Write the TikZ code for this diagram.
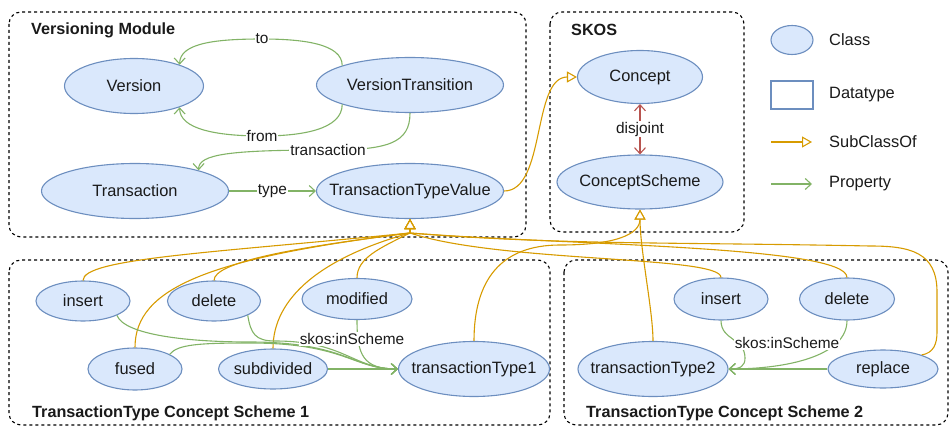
\documentclass[tikz,border=0pt]{standalone}
\usepackage{fontspec}
\setmainfont{Liberation Sans}
\usetikzlibrary{arrows.meta,shapes.geometric}
\definecolor{clsfill}{HTML}{DAE8FC}
\definecolor{clsline}{HTML}{6C8EBF}
\definecolor{subc}{HTML}{D79B00}
\definecolor{propc}{HTML}{82B366}
\definecolor{disc}{HTML}{B85450}
\definecolor{txt}{HTML}{1A1A1A}
\begin{document}
\begin{tikzpicture}[x=1pt,y=-1pt,
 cls/.style={ellipse, draw=clsline, fill=clsfill, line width=1.1pt, inner sep=0pt, minimum height=55pt},
 smallcls/.style={minimum height=40pt},
 nt/.style={font=\fontsize{16.4}{19}\selectfont, text=txt, inner sep=0pt},
 elabel/.style={fill=white, inner sep=1pt, font=\fontsize{15.4}{18}\selectfont, text=txt},
 grptitle/.style={font=\fontsize{16.2}{19}\selectfont\bfseries, text=txt, anchor=west, inner sep=0pt},
 grp/.style={draw=black, dash pattern=on 3pt off 3pt, line width=1.1pt, rounded corners=12pt},
 prop/.style={draw=propc, line width=1.1pt, -{Straight Barb[length=6pt,width=11pt]}},
 sub/.style={draw=subc, line width=1.1pt, -{Triangle[open,fill=white,length=10pt,width=11pt]}},
 disj/.style={draw=disc, line width=1.1pt, {Straight Barb[length=6pt,width=11pt]}-{Straight Barb[length=6pt,width=11pt]}}
]
\useasboundingbox (0,0) rectangle (950,428);

% group boxes
\draw[grp] (9,12) rectangle (526,237);
\draw[grp] (550,12) rectangle (744,232);
\draw[grp] (9,260) rectangle (550,425);
\draw[grp] (564,260) rectangle (948,425);
\node[grptitle] (t1) at (31,30) {Versioning Module};
\node[grptitle] (t2) at (571,30) {SKOS};
\node[grptitle] (t3) at (32,413) {TransactionType Concept Scheme 1};
\node[grptitle] (t4) at (586,413) {TransactionType Concept Scheme 2};

% classes
\node[cls, minimum width=139pt, label={[nt]center:Version}] (version) at (134,86) {};
\node[cls, minimum width=187pt, label={[nt]center:VersionTransition}] (vt) at (410,85) {};
\node[cls, minimum width=187pt, label={[nt]center:Transaction}] (tr) at (135,191) {};
\node[cls, minimum width=187pt, label={[nt]center:TransactionTypeValue}] (ttv) at (410,191) {};
\node[cls, minimum width=125pt, minimum height=53pt, label={[nt]center:Concept}] (concept) at (640,77) {};
\node[cls, minimum width=166pt, minimum height=54pt, label={[nt]center:ConceptScheme}] (cs) at (640,182) {};

\node[cls, smallcls, minimum width=94pt, label={[nt]center:insert}] (ins1) at (83,301) {};
\node[cls, smallcls, minimum width=93pt, label={[nt]center:delete}] (del1) at (214,301) {};
\node[cls, smallcls, minimum width=110pt, minimum height=41pt, label={[nt]center:modified}] (mod) at (357,299) {};
\node[cls, smallcls, minimum width=94pt, minimum height=42pt, label={[nt]center:fused}] (fused) at (135,369) {};
\node[cls, smallcls, minimum width=109pt, label={[nt]center:subdivided}] (subd) at (273,369) {};
\node[cls, minimum width=151pt, label={[nt]center:transactionType1}] (tt1) at (474,369) {};

\node[cls, minimum width=150pt, label={[nt]center:transactionType2}] (tt2) at (653,369) {};
\node[cls, smallcls, minimum width=94pt, minimum height=42pt, label={[nt]center:insert}] (ins2) at (721,299) {};
\node[cls, smallcls, minimum width=95pt, minimum height=42pt, label={[nt]center:delete}] (del2) at (847,299) {};
\node[cls, smallcls, minimum width=110pt, minimum height=38pt, label={[nt]center:replace}] (rep) at (883,369) {};

% versioning module properties
\draw[prop] (vt.164) .. controls +(0,-22) and +(40,0) .. (262,39) node[elabel] (lto) {to}
  .. controls +(-45,0) and +(0,-22) .. (version.25);
\draw[prop] (vt.196) .. controls +(0,25) and +(40,0) .. (262,136) node[elabel] (lfrom) {from}
  .. controls +(-45,0) and +(0,22) .. (version.335);
\draw[prop] (vt.south) .. controls +(0,30) and +(60,0) .. (328,150) node[elabel] (ltrans) {transaction}
  .. controls +(-100,0) and +(0,-16) .. (tr.18);
\draw[prop] (tr.east) -- node[elabel] (ltype) {type} (ttv.west);

% SKOS
\draw[disj] (concept.south) -- node[elabel] (ldisj) {disjoint} (cs.north);
\draw[sub] (ttv.east) .. controls +(42,0) and +(-45,0) .. (concept.west);

% subclass edges into TransactionTypeValue
\coordinate (ttvin) at (410,233);
\draw[sub] (ins1.north) .. controls +(0,-22) and +(-200,20) .. (ttvin) -- (ttv.south);
\draw[sub] (del1.north) .. controls +(0,-18) and +(-120,15) .. (ttvin) -- (ttv.south);
\draw[sub] (fused.north) .. controls +(0,-60) and +(-200,25) .. (ttvin) -- (ttv.south);
\draw[sub] (subd.north) .. controls +(0,-50) and +(-90,25) .. (ttvin) -- (ttv.south);
\draw[sub] (mod.north) .. controls +(0,-20) and +(-30,15) .. (ttvin) -- (ttv.south);
\draw[sub] (ins2.north) .. controls +(0,-22) and +(90,30) .. (ttvin) -- (ttv.south);
\draw[sub] (del2.north) .. controls +(0,-32) and +(150,12) .. (ttvin) -- (ttv.south);
\draw[sub] (rep.20) .. controls +(12,-2) and +(0,12) .. (937,332) -- (937,292)
  .. controls +(0,-40) and +(40,0) .. (870,246)
  .. controls +(-200,-4) and +(150,12) .. (ttvin) -- (ttv.south);

% subclass edges into ConceptScheme
\draw[sub] (tt1.north) .. controls +(0,-60) and +(-60,0) .. (560,245) .. controls +(55,0) and +(0,25) .. (cs.south);
\draw[sub] (tt2.north) .. controls +(0,-30) and +(0,40) .. (cs.south);

% skos:inScheme scheme 1
\draw[prop] (ins1.-23) .. controls +(8,20) and +(-60,0) .. (250,342) .. controls +(95,0) and +(-45,0) .. (tt1.west);
\draw[prop] (del1.-23) .. controls +(3,18) and +(-20,0) .. (275,341) .. controls +(70,0) and +(-45,0) .. (tt1.west);
\draw[prop] (fused.23) .. controls +(8,-10) and +(-50,0) .. (250,343) .. controls +(95,0) and +(-45,0) .. (tt1.west);
\draw[prop] (subd.east) -- (tt1.west);
\draw[prop] (mod.south) .. controls +(0,35) and +(-35,0) .. (tt1.west);
\node[elabel] (lins1) at (352,339) {skos:inScheme};

% skos:inScheme scheme 2
\draw[prop] (ins2.south) .. controls +(0,20) and +(0,-20) .. (745,358) .. controls +(0,8) and +(12,0) .. (tt2.east);
\draw[prop] (del2.south) .. controls +(0,35) and +(60,0) .. (tt2.east);
\draw[prop] (rep.west) -- (tt2.east);
\node[elabel] (lins2) at (787,343) {skos:inScheme};

% legend
\node[cls, minimum width=42pt, minimum height=29pt] (lgcls) at (792,40) {};
\node[nt, anchor=west] (lgclst) at (829,40) {Class};
\node[draw=clsline, line width=1.1pt, minimum width=42pt, minimum height=28pt, inner sep=0pt] (lgdt) at (792,95) {};
\node[nt, anchor=west] (lgdtt) at (829,95) {Datatype};
\coordinate (lgs1) at (771,142);
\coordinate (lgs2) at (812,142);
\draw[sub] (lgs1) -- (lgs2);
\node[nt, anchor=west] (lgsubt) at (829,142) {SubClassOf};
\coordinate (lgp1) at (771,184);
\coordinate (lgp2) at (812,184);
\draw[prop] (lgp1) -- (lgp2);
\node[nt, anchor=west] (lgpropt) at (829,184) {Property};
\end{tikzpicture}
\end{document}
